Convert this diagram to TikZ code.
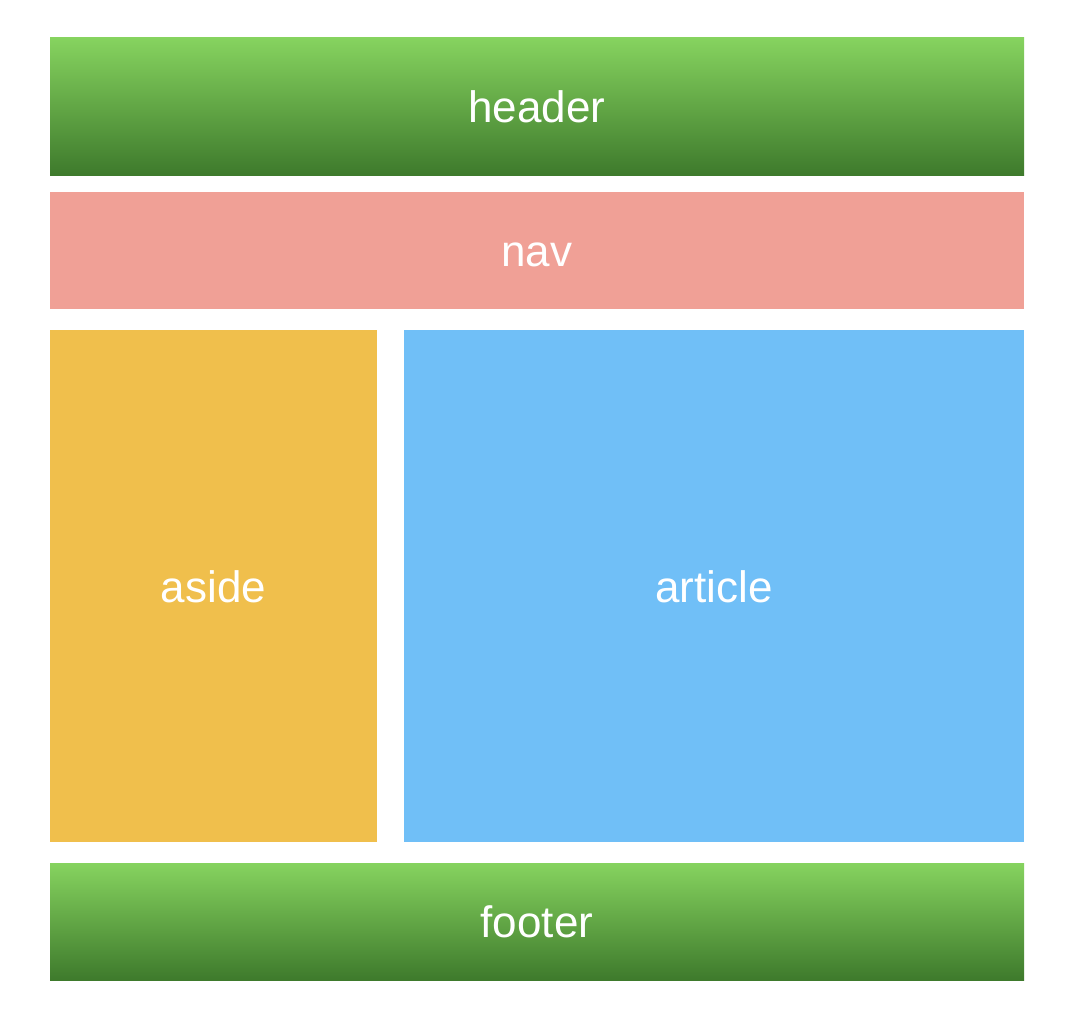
\documentclass[tikz,border=0pt]{standalone}
\usepackage{fontspec}
\setmainfont{Liberation Sans}
\definecolor{barTop}{RGB}{134,211,95}
\definecolor{barBot}{RGB}{62,122,44}
\definecolor{navCol}{RGB}{240,160,150}
\definecolor{asideCol}{RGB}{240,191,76}
\definecolor{articleCol}{RGB}{112,191,247}
\newcommand\pageW{1076}
\newcommand\pageH{1014}
\newcommand\fullW{974}
\newcommand\midX{537}
\tikzset{
  block/.style={rectangle, inner sep=0pt, text=white, text height=32pt, text depth=0pt,
    font=\fontsize{44}{50}\selectfont},
  greenbar/.style={block, top color=barTop, bottom color=barBot},
}

\begin{document}
\begin{tikzpicture}[x=1pt, y=-1pt]
    \useasboundingbox[fill=white] (0,0) rectangle (\pageW,\pageH);

    %% top bars
    \node[greenbar, minimum width=\fullW, minimum height=137] (header) at (\midX,106.5) {header};
    \node[block, fill=navCol, minimum width=\fullW, minimum height=117] (nav) at (\midX,250.5) {nav};

    %% middle columns
    \node[block, fill=asideCol, minimum width=327, minimum height=512] (aside) at (213.5,586) {aside};
    \node[block, fill=articleCol, minimum width=620, minimum height=512] (article) at (714,586) {article};

    %% bottom bar
    \node[greenbar, minimum width=\fullW, minimum height=117] (footer) at (\midX,921.5) {footer};
\end{tikzpicture}
\end{document}
